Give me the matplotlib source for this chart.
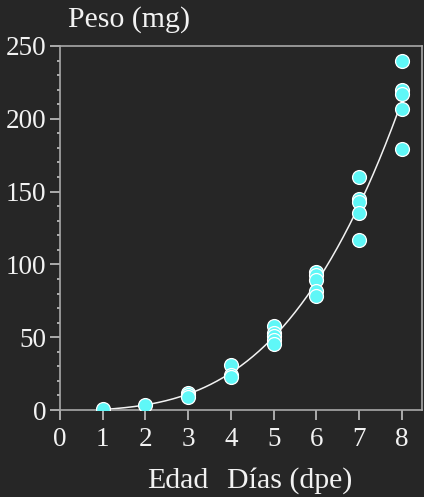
import numpy as np
import matplotlib
matplotlib.use("Agg")
import matplotlib.pyplot as plt
from matplotlib.ticker import MultipleLocator

# Larval weight (mg) by age (days post-hatch)
day1 = [0.5]
day2 = [3.4]
day3 = [12, 10, 9]
day4 = [31, 24, 23]
day5 = [58, 53, 51, 48, 45]
day6 = [95, 93, 89, 82, 78]
day7 = [160, 145, 143, 135, 117]
day8 = [240, 220, 217, 207, 179]
groups = [day1, day2, day3, day4, day5, day6, day7, day8]
days = [1, 2, 3, 4, 5, 6, 7, 8]

x_ticks = [0, 1, 2, 3, 4, 5, 6, 7, 8]
y_ticks = [0, 50, 100, 150, 200, 250]

bg = "#262626"
fg = "#f2f2f2"
spine_c = "#a8a8a8"
dot_c = "#5ff7f7"

plt.rcParams["font.family"] = ["Liberation Serif", "DejaVu Serif"]

fig = plt.figure(figsize=(4.24, 4.97), dpi=100, facecolor=bg)
ax = fig.add_axes([60 / 424, 87 / 497, 362 / 424, 364 / 497], facecolor=bg)

xs = np.concatenate([[d] * len(g) for d, g in zip(days, groups)])
ys = np.concatenate(groups)

# cubic growth curve fitted to the daily means
means = np.array([np.mean(g) for g in groups])
coef = np.polyfit(days, means, 3)
xf = np.linspace(1, 8, 200)
ax.plot(xf, np.polyval(coef, xf), color=fg, lw=1.1, zorder=2)

ax.scatter(xs, ys, s=100, color=dot_c, edgecolor="white", linewidth=0.9, zorder=3)

ax.set_xlim(0, 8.47)
ax.set_ylim(0, 250)
ax.set_xticks(x_ticks)
ax.set_yticks(y_ticks)
ax.yaxis.set_minor_locator(MultipleLocator(10))

for s in ax.spines.values():
    s.set_color(spine_c)
    s.set_linewidth(1.2)

ax.tick_params(axis="both", which="major", direction="out", length=7, width=1.1,
               color="#d0d0d0", labelcolor=fg, labelsize=19.5, pad=3)
ax.tick_params(axis="x", which="major", pad=5)
ax.tick_params(axis="y", which="minor", direction="out", length=2.5, width=1.1,
               color="#d0d0d0")

fig.text(68 / 424, 1 - 27 / 497, "Peso (mg)", color=fg, fontsize=21.5,
         ha="left", va="baseline")
fig.text(147 / 424, 1 - 488 / 497, "Edad", color=fg, fontsize=21.5,
         ha="left", va="baseline")
fig.text(227 / 424, 1 - 488 / 497, "Días (dpe)", color=fg, fontsize=21.5,
         ha="left", va="baseline")

fig.savefig("out.png", dpi=100, facecolor=bg)
